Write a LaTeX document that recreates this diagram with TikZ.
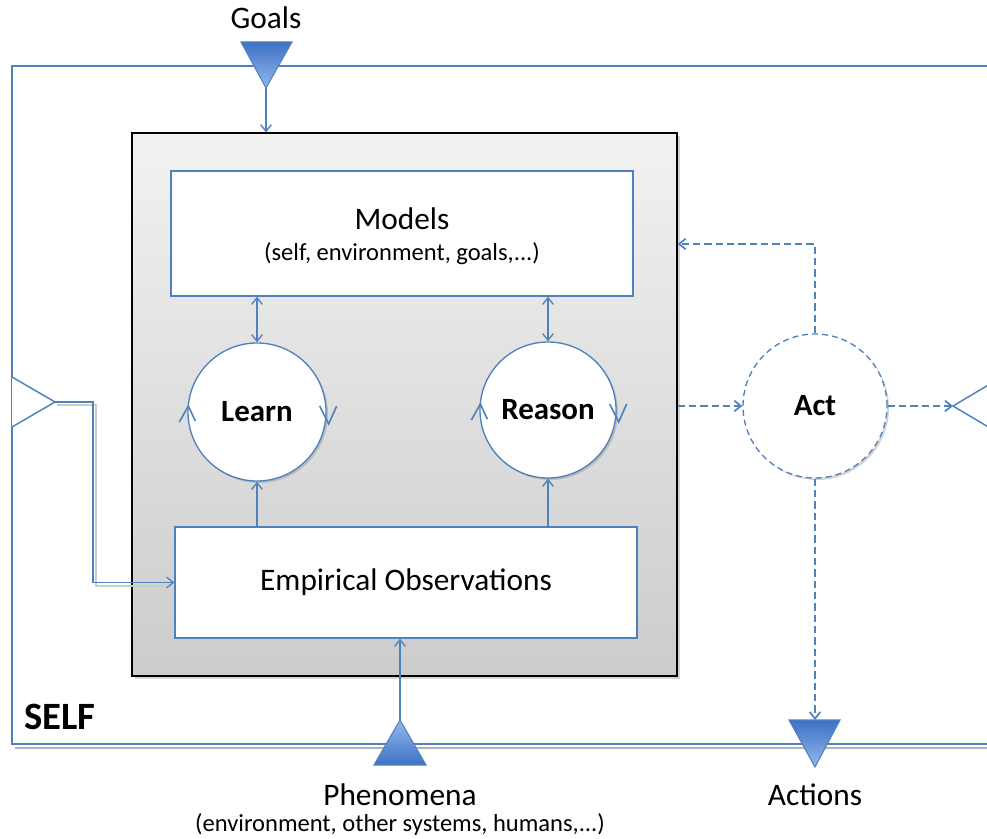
\documentclass[tikz,border=0pt]{standalone}
\usepackage{fontspec}
\setmainfont{Carlito}
\usetikzlibrary{arrows.meta,shadows,calc}
\definecolor{lineblue}{HTML}{4F81BD}
\definecolor{triDark}{HTML}{3C72C4}
\definecolor{triLight}{HTML}{95B8EF}
\definecolor{boxTop}{HTML}{F2F2F2}
\definecolor{boxBot}{HTML}{CCCCCC}
\begin{document}
\begin{tikzpicture}[x=0.75pt,y=-0.75pt,
  conn/.style={draw=lineblue, line width=1pt},
  tip/.style={-{Straight Barb[length=5pt,width=8pt]}},
  dtip/.style={{Straight Barb[length=5pt,width=8pt]}-{Straight Barb[length=5pt,width=8pt]}},
  barb/.style={draw=lineblue, line width=1.2pt, line join=miter},
  dconn/.style={draw=lineblue, line width=1.3pt, dash pattern=on 5.5pt off 3pt},
  wbox/.style={draw=lineblue, line width=1pt, fill=white, inner sep=0pt, align=center},
  circ/.style={circle, draw=lineblue, line width=1pt, fill=white, inner sep=0pt,
    font=\fontsize{23.2}{27}\selectfont\bfseries,
    drop shadow={opacity=0.35, shadow xshift=1.5pt, shadow yshift=-1.5pt}},
  lab/.style={font=\fontsize{23.5}{28}\selectfont, align=center, inner sep=0pt},
  sublab/.style={font=\fontsize{18.4}{22}\selectfont, inner sep=0pt},
]
\useasboundingbox (0,0) rectangle (987,838);

% SELF frame
\draw[gray!60, line width=1.5pt] (15,747.5) -- (987,747.5);
\draw[conn, line width=1.1pt] (987,66) -- (12,66) -- (12,744) -- (987,744);
\node[font=\fontsize{29}{34}\selectfont\bfseries] (self) at (60,717) {SELF};

% core grey box
\node[draw=black, line width=0.9pt, top color=boxTop, bottom color=boxBot,
  minimum width=408.75pt, minimum height=407.25pt, inner sep=0pt,
  drop shadow={opacity=0.35, shadow xshift=2pt, shadow yshift=-2pt}] (core) at (404.5,404.5) {};

% Models and Empirical boxes
\node[wbox, minimum width=346.5pt, minimum height=93.75pt] (models) at (402,233.5) {};
\node[lab] (modelsTitle) at (402,219) {Models};
\node[sublab] (modelsSub) at (402,254) {(self, environment, goals,...)};
\node[wbox, minimum width=346.5pt, minimum height=83.25pt, font=\fontsize{23.5}{28}\selectfont] (emp) at (406,582.5)
  {Empirical Observations};

% circles
\node[circ, minimum size=103.5pt] (learn) at (257,412) {Learn};
\node[circ, minimum size=102pt] (reason) at (548,410) {Reason};
\node[circ, minimum size=108pt, draw=none] (act) at (815,406) {Act};
\draw[draw=lineblue, line width=1pt, dash pattern=on 4.5pt off 3pt] (act) circle[radius=54pt];

% circle arrowheads (cycle direction)
\foreach \c in {learn, reason} {
  \draw[barb] ($(\c.west)+(-8,10)$) -- ($(\c.west)+(1,-6)$) -- ($(\c.west)+(8,9)$);
  \draw[barb] ($(\c.east)+(-7,-6)$) -- ($(\c.east)+(2,12)$) -- ($(\c.east)+(10,-6)$);
}

% links models <-> circles, observations -> circles
\draw[conn, dtip] (learn.north |- models.south) -- (learn.north);
\draw[conn, dtip] (reason.north |- models.south) -- (reason.north);
\draw[conn, tip] (learn.south |- emp.north) -- (learn.south);
\draw[conn, tip] (reason.south |- emp.north) -- (reason.south);

% Goals
\node[lab] (goals) at (266,18) {Goals};
\shade[top color=triDark, bottom color=triLight, draw=lineblue, line width=0.8pt]
  (241,42) -- (292,42) -- (266,88) -- cycle;
\coordinate (goalsTip) at (266,88);
\draw[conn, tip] (goalsTip) -- (goalsTip |- core.north);

% left input triangle
\filldraw[fill=white, draw=lineblue, line width=1.1pt] (12,377) -- (55,402) -- (12,427);
\coordinate (inTip) at (55,402);
\draw[gray!40, line width=1.2pt] (57,405) -- (96,405) -- (96,586) -- (170,586);
\draw[conn, tip] (inTip) -- ++(38,0) |- (emp.west);

% Phenomena
\shade[top color=triLight, bottom color=triDark, draw=lineblue, line width=0.8pt]
  (374,765) -- (426,765) -- (400,720) -- cycle;
\coordinate (phenTip) at (400,720);
\draw[conn, tip] (phenTip) -- (phenTip |- emp.south);
\node[lab] (phen) at (400,795) {Phenomena};
\node[sublab] (phenSub) at (400,824) {(environment, other systems, humans,...)};

% Act connectors
\draw[dconn, tip] (core.east |- act.west) -- (act.west);
\draw[dconn, tip] (act.north) |- ([yshift=120.4pt]core.east);
\coordinate (outTip) at (953,406);
\draw[dconn, tip] (act.east) -- (outTip);
\filldraw[fill=white, draw=lineblue, line width=1.1pt] (990,384) -- (953,406) -- (990,428);

% Actions
\shade[top color=triDark, bottom color=triLight, draw=lineblue, line width=0.8pt]
  (789,720) -- (840,720) -- (815,767) -- cycle;
\coordinate (actIn) at (815,720);
\draw[dconn, tip] (act.south) -- (actIn);
\node[lab] (actions) at (815,795) {Actions};
\end{tikzpicture}
\end{document}
